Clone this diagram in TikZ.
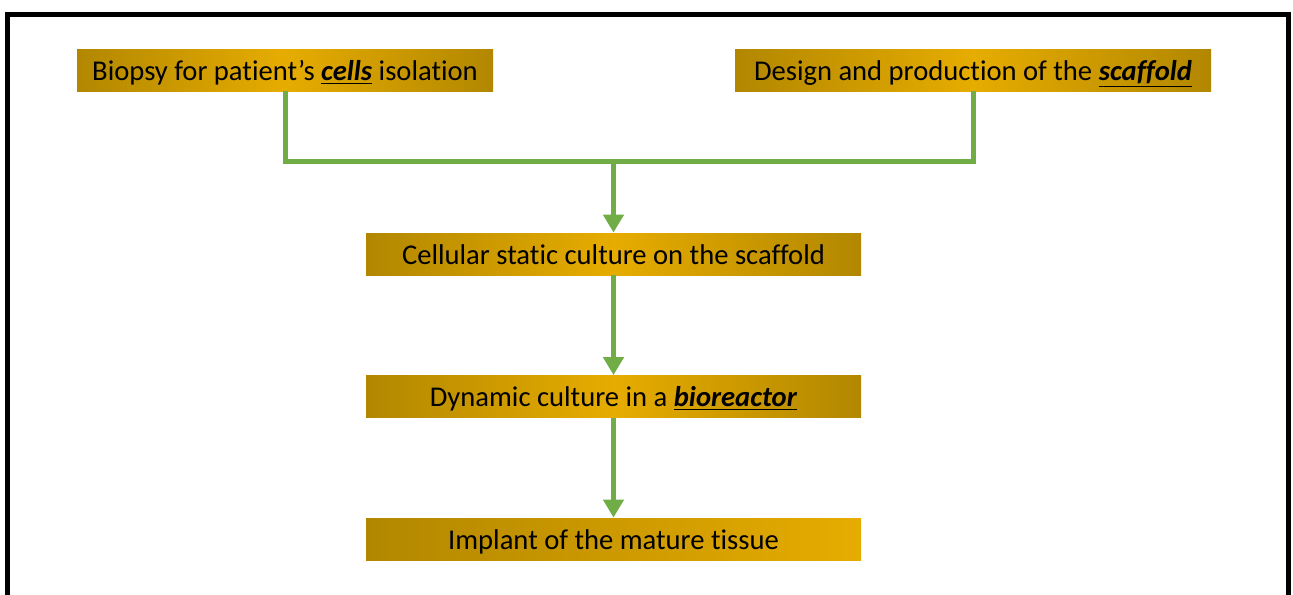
\documentclass[tikz,border=0pt]{standalone}
\usepackage{fontspec}
\setmainfont[Ligatures={NoCommon}]{Carlito}
\usepackage{tikz}
\usetikzlibrary{arrows.meta,positioning}
\definecolor{GoldDk}{HTML}{B28700}
\definecolor{GoldLt}{HTML}{E6AC00}
\definecolor{Leaf}{HTML}{70AD47}
\definecolor{Ink}{HTML}{000000}
\newcommand{\keyw}[1]{\underline{\textbf{\textit{#1}}}}

\begin{document}
\begin{tikzpicture}[x=0.5pt,y=-0.5pt,
    step box/.style={minimum height=21pt,inner sep=0pt,
      text height=12pt,text depth=2pt,
      font=\fontsize{14.3}{17}\selectfont,text=Ink,
      left color=GoldDk,right color=GoldDk,middle color=GoldLt},
    last box/.style={step box,left color=GoldDk,right color=GoldLt},
    link/.style={Leaf,line width=2.5pt},
    flow/.style={link,-{Triangle[width=10pt,length=9pt]}}]
  \useasboundingbox (0,0) rectangle (1293,594);
  \clip (0,0) rectangle (1293,594);
  \draw[Ink,line width=2.5pt] (7.5,14.5) rectangle (1288.5,640);
  % the two starting steps
  \node[step box,minimum width=208pt] (biopsy) at (285,70)
    {Biopsy for patient’s \keyw{cells} isolation};
  \node[step box,minimum width=238pt] (design) at (973,70)
    {Design and production of the \keyw{scaffold}};
  % the chain down the middle
  \node[step box,minimum width=247.5pt] (static) at (613.5,254)
    {Cellular static culture on the scaffold};
  \node[step box,minimum width=247.5pt] (dynamic) at (613.5,396.5)
    {Dynamic culture in a \keyw{bioreactor}};
  \node[last box,minimum width=247.5pt] (implant) at (613.5,539)
    {Implant of the mature tissue};
  \coordinate (join) at (613.5,161);
  \draw[link] (biopsy.south) |- (join) -| (design.south);
  \draw[flow] (join) -- (static.north);
  \draw[flow] (static) -- (dynamic);
  \draw[flow] (dynamic) -- (implant);
\end{tikzpicture}
\end{document}
